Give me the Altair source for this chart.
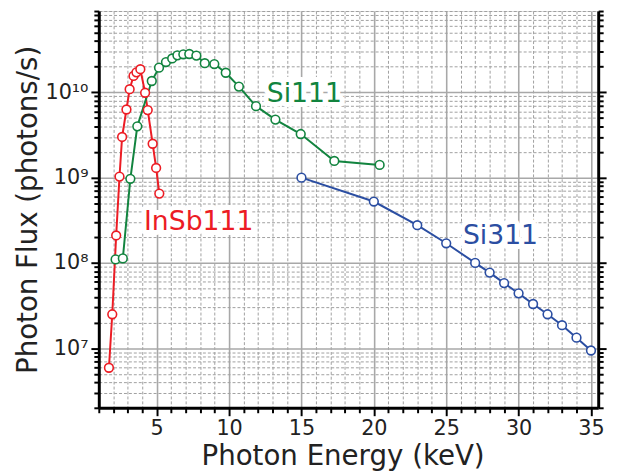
import altair as alt
import pandas as pd

# ---- data ----
insb_x = [1.7, 1.93, 2.2, 2.43, 2.61, 2.91, 3.13, 3.4, 3.6, 3.87, 4.2, 4.38, 4.72, 4.96, 5.18]
insb_y = [5.9e6, 2.5e7, 2.1e8, 1.03e9, 3.0e9, 6.3e9, 1.09e10, 1.56e10, 1.72e10, 1.87e10,
          9.9e9, 6.2e9, 2.5e9, 1.3e9, 6.5e8]

si111_x = [2.16, 2.66, 3.18, 3.66, 4.66, 5.16, 5.64, 6.07, 6.43, 6.84, 7.25, 7.74, 8.32,
           8.98, 9.77, 10.68, 11.86, 13.2, 14.95, 17.27, 20.4]
si111_y = [1.1e8, 1.13e8, 9.7e8, 4.0e9, 1.36e10, 1.95e10, 2.27e10, 2.5e10, 2.72e10, 2.8e10,
           2.82e10, 2.7e10, 2.2e10, 2.15e10, 1.7e10, 1.17e10, 6.9e9, 4.8e9, 3.25e9, 1.57e9,
           1.41e9]

si311_x = [15, 20, 23, 25, 27, 28, 29, 30, 31, 32, 33, 34, 35]
si311_y = [1.0e9, 5.25e8, 2.77e8, 1.7e8, 1.0e8, 7.7e7, 5.8e7, 4.4e7, 3.3e7, 2.5e7,
           1.86e7, 1.33e7, 9.4e6]

series_names = ["Si111", "Si311", "InSb111"]
series_colors = ["#12843f", "#2b4ea2", "#ec1c24"]

label_text = ["InSb111", "Si111", "Si311"]
label_x = [7.9, 15.2, 28.75]
label_y = [3.0e8, 9.6e9, 2.07e8]

x_ticks = [float(v) for v in range(1, 36)]
y_ticks = [k * 10 ** e for e in range(6, 11) for k in range(1, 10)
           if 2e6 <= k * 10 ** e <= 9e10]

rows = []
for name, xs, ys in [("InSb111", insb_x, insb_y), ("Si111", si111_x, si111_y),
                     ("Si311", si311_x, si311_y)]:
    for i, (a, b) in enumerate(zip(xs, ys)):
        rows.append({"series": name, "x": a, "y": b, "i": i})
df = pd.DataFrame(rows)
lab = pd.DataFrame({"series": label_text, "x": label_x, "y": label_y})

FONT = "DejaVu Sans"
xscale = alt.Scale(domain=[1, 35.5], nice=False, zero=False)
yscale = alt.Scale(type="log", domain=[2e6, 9e10], nice=False)
cscale = alt.Scale(domain=series_names, range=series_colors)

xmajor = "datum.value % 5 === 0"
ymajor = "abs(log(datum.value)/LN10 - round(log(datum.value)/LN10)) < 0.001"

x_axis = alt.Axis(
    values=x_ticks, title="Photon Energy (keV)",
    labelExpr="datum.value % 5 === 0 ? format(datum.value, 'd') : ''",
    labelOverlap=False, labelFlush=False, labelBound=False,
    labelFont=FONT, labelFontSize=21, labelColor="#222", labelPadding=2,
    titleFont=FONT, titleFontSize=28, titleFontWeight="normal", titleColor="#222",
    titleX=247, titleY=35,
    grid=True,
    gridDash={"condition": {"test": xmajor, "value": []}, "value": [3, 2]},
    gridColor={"condition": {"test": xmajor, "value": "#a8a8a8"}, "value": "#a0a0a0"},
    gridWidth={"condition": {"test": xmajor, "value": 1.6}, "value": 1},
    tickSize={"condition": {"test": xmajor, "value": 8}, "value": 5},
    tickWidth=2, tickColor="black",
    domainColor="black", domainWidth=3,
)

y_label_expr = ("datum.value == 1e7 ? '10\u2077' : datum.value == 1e8 ? '10\u2078' : "
                "datum.value == 1e9 ? '10\u2079' : datum.value == 1e10 ? '10\u00b9\u2070' : ''")
y_axis = alt.Axis(
    values=y_ticks, title="Photon Flux (photons/s)", labelExpr=y_label_expr,
    labelOverlap=False, labelFlush=False, labelBound=False,
    labelFont=FONT, labelFontSize=21, labelColor="#222", labelPadding=3,
    titleFont=FONT, titleFontSize=28, titleFontWeight="normal", titleColor="#222",
    titleX=-71, titleBaseline="middle",
    grid=True,
    gridDash={"condition": {"test": ymajor, "value": []}, "value": [3, 2]},
    gridColor={"condition": {"test": ymajor, "value": "#a8a8a8"}, "value": "#a0a0a0"},
    gridWidth={"condition": {"test": ymajor, "value": 1.6}, "value": 1},
    tickSize={"condition": {"test": ymajor, "value": 8}, "value": 5},
    tickWidth=2, tickColor="black",
    domainColor="black", domainWidth=3,
)
y_axis_right = alt.Axis(
    values=y_ticks, orient="right", labels=False, title=None, grid=False,
    tickSize={"condition": {"test": ymajor, "value": 8}, "value": 5},
    tickWidth=2, tickColor="black", domainColor="black", domainWidth=3,
)

lines = alt.Chart(df).mark_line(strokeWidth=2).encode(
    x=alt.X("x:Q", scale=xscale, axis=x_axis),
    y=alt.Y("y:Q", scale=yscale, axis=None),
    color=alt.Color("series:N", scale=cscale, legend=None),
    order="i:Q",
)

points = alt.Chart(df).mark_point(shape="circle", filled=False, fill="white",
                                  opacity=1, size=78, strokeWidth=1.6).encode(
    x=alt.X("x:Q", scale=xscale, axis=x_axis),
    y=alt.Y("y:Q", scale=yscale, axis=y_axis),
    color=alt.Color("series:N", scale=cscale, legend=None),
)

right = alt.Chart(df).mark_point(opacity=0).encode(
    x=alt.X("x:Q", scale=xscale, axis=x_axis),
    y=alt.Y("y:Q", scale=yscale, axis=y_axis_right),
)

halo = alt.Chart(lab).mark_text(font=FONT, fontSize=27, stroke="white", strokeWidth=10,
                                strokeJoin="round", fill="white").encode(
    x=alt.X("x:Q", scale=xscale, axis=x_axis),
    y=alt.Y("y:Q", scale=yscale, axis=None),
    text="series:N",
)
texts = alt.Chart(lab).mark_text(font=FONT, fontSize=27).encode(
    x=alt.X("x:Q", scale=xscale, axis=x_axis),
    y=alt.Y("y:Q", scale=yscale, axis=None),
    text="series:N",
    color=alt.Color("series:N", scale=cscale, legend=None),
)

chart = alt.layer(lines, points, right, halo, texts).resolve_axis(
    y="independent"
).properties(
    width=506, height=402,
    autosize=alt.AutoSizeParams(type="none"),
    padding={"left": 92, "top": 0, "right": 16, "bottom": 64},
).configure_view(stroke="black", strokeWidth=3).configure(background="white")

chart.save("out.html", embed_options={"renderer": "svg", "actions": False})
